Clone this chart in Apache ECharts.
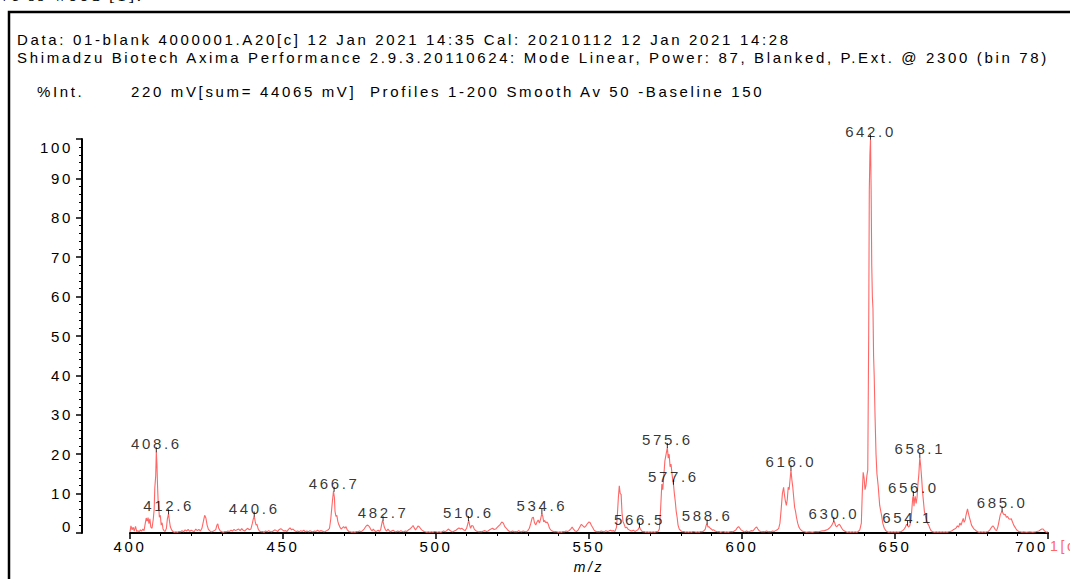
<!DOCTYPE html>
<html>
<head>
<meta charset="utf-8">
<script src="https://cdn.jsdelivr.net/npm/echarts@6/dist/echarts.min.js"></script>
<style>
  html, body { margin: 0; padding: 0; background: #fff; }
  #main { width: 1070px; height: 579px; }
  #main svg text { letter-spacing: 2.65px; }
</style>
</head>
<body>
<div id="main"></div>
<script>
// ---- data ----
const headerLine1 = 'Data: 01-blank 4000001.A20[c] 12 Jan 2021 14:35 Cal: 20210112 12 Jan 2021 14:28';
const headerLine2 = 'Shimadzu Biotech Axima Performance 2.9.3.20110624: Mode Linear, Power: 87, Blanked, P.Ext. @ 2300 (bin 78)';
const yUnitLabel = '%Int.';
const acqLine = '220 mV[sum= 44065 mV]  Profiles 1-200 Smooth Av 50 -Baseline 150';
const xAxisName = 'm/z';
const seriesTag = '1[c]';

const spectrumMz = [
400.0,400.3,400.7,401.0,401.4,401.8,402.2,402.6,403.0,403.4,403.8,404.2,404.6,405.0,405.3,405.6,405.9,406.2,406.5,406.8,407.2,407.6,407.9,408.1,408.4,408.6,408.8,409.0,409.2,409.4,409.6,409.9,410.2,410.5,410.8,411.1,411.5,411.9,412.2,412.6,412.9,413.2,413.6,414.0,414.5,415.0,415.5,416.0,416.5,417.0,417.5,418.0,418.5,419.0,419.5,420.0,420.5,421.0,421.5,422.0,422.5,423.0,423.5,424.0,424.4,424.8,425.2,425.6,426.0,426.5,427.0,427.5,428.0,428.4,428.7,429.0,429.5,430.0,430.5,431.0,431.5,432.0,432.5,433.0,433.5,434.0,434.5,435.0,435.5,436.0,436.5,437.0,437.5,438.0,438.5,439.0,439.5,440.0,440.3,440.6,440.9,441.2,441.5,441.9,442.3,442.8,443.3,443.8,444.3,444.8,445.3,445.8,446.3,446.8,447.3,447.8,448.3,448.8,449.3,449.8,450.3,450.8,451.3,451.8,452.3,452.8,453.3,453.8,454.3,454.8,455.3,455.8,456.3,456.8,457.3,457.8,458.3,458.8,459.3,459.8,460.3,460.8,461.3,461.8,462.3,462.8,463.3,463.8,464.3,464.8,465.2,465.6,465.9,466.2,466.5,466.8,467.0,467.3,467.6,467.9,468.2,468.6,469.0,469.4,469.8,470.2,470.6,471.0,471.5,472.0,472.5,473.0,473.5,474.0,474.5,475.0,475.5,476.0,476.5,477.0,477.5,477.9,478.3,478.7,479.1,479.5,479.9,480.3,480.7,481.1,481.5,481.9,482.2,482.5,482.8,483.1,483.5,483.9,484.3,484.7,485.1,485.5,486.0,486.5,487.0,487.5,488.0,488.5,489.0,489.5,490.0,490.5,491.0,491.5,492.0,492.5,492.9,493.3,493.7,494.1,494.5,494.9,495.3,495.7,496.1,496.5,497.0,497.5,498.0,498.5,499.0,499.5,500.0,500.5,501.0,501.5,502.0,502.5,503.0,503.5,504.0,504.5,505.0,505.5,506.0,506.5,507.0,507.5,508.0,508.5,509.0,509.5,510.0,510.4,510.7,511.0,511.3,511.7,512.1,512.5,513.0,513.5,514.0,514.5,515.0,515.5,516.0,516.5,517.0,517.5,518.0,518.5,519.0,519.5,520.0,520.5,521.0,521.5,522.0,522.5,523.0,523.5,524.0,524.5,525.0,525.5,526.0,526.5,527.0,527.5,528.0,528.5,529.0,529.5,530.0,530.5,531.0,531.4,531.8,532.2,532.6,533.0,533.4,533.8,534.2,534.6,534.9,535.2,535.5,535.9,536.3,536.7,537.1,537.5,538.0,538.5,539.0,539.5,540.0,540.5,541.0,541.5,542.0,542.5,543.0,543.5,544.0,544.5,545.0,545.5,546.0,546.5,547.0,547.5,548.0,548.5,549.0,549.5,550.0,550.4,550.8,551.2,551.6,552.0,552.5,553.0,553.5,554.0,554.5,555.0,555.5,556.0,556.5,557.0,557.5,558.0,558.5,559.0,559.3,559.6,559.9,560.2,560.5,560.8,561.1,561.5,561.9,562.3,562.7,563.1,563.5,564.0,564.5,565.0,565.5,566.0,566.5,566.8,567.2,567.6,568.0,568.5,569.0,569.5,570.0,570.5,571.0,571.5,572.0,572.5,573.0,573.4,573.8,574.1,574.4,574.8,575.2,575.6,575.9,576.2,576.5,576.8,577.2,577.6,577.9,578.2,578.5,578.8,579.1,579.5,580.0,580.5,581.0,581.5,582.0,582.5,583.0,583.5,584.0,584.5,585.0,585.5,586.0,586.5,587.0,587.5,588.0,588.3,588.6,588.9,589.2,589.6,590.0,590.4,590.8,591.2,591.6,592.0,592.5,593.0,593.5,594.0,594.5,595.0,595.5,596.0,596.5,597.0,597.5,598.0,598.5,598.9,599.3,599.7,600.1,600.5,601.0,601.5,602.0,602.5,603.0,603.5,604.0,604.5,604.8,605.2,605.6,606.0,606.5,607.0,607.5,608.0,608.5,609.0,609.5,610.0,610.5,611.0,611.5,612.0,612.4,612.8,613.2,613.6,613.9,614.2,614.5,614.8,615.1,615.4,615.7,616.0,616.3,616.6,616.9,617.2,617.5,617.8,618.2,618.6,619.0,619.5,620.0,620.5,621.0,622.0,623.0,624.0,625.0,626.0,627.0,628.0,628.5,629.0,629.5,630.0,630.3,630.6,631.0,631.4,631.8,632.2,632.6,633.0,633.5,634.0,634.5,635.0,635.5,636.0,636.5,637.0,637.5,638.0,638.5,639.0,639.3,639.6,639.9,640.2,640.5,640.8,641.1,641.4,641.6,641.8,642.0,642.2,642.4,642.6,642.8,643.0,643.2,643.5,643.8,644.1,644.5,645.0,645.6,646.0,646.5,647.0,647.5,648.0,648.5,649.0,649.5,650.0,650.5,651.0,651.5,652.0,652.5,653.0,653.4,653.8,654.1,654.4,654.8,655.2,655.5,655.8,656.0,656.2,656.4,656.6,656.9,657.2,657.5,657.8,658.1,658.4,658.7,659.0,659.3,659.6,659.9,660.2,660.6,661.0,661.4,661.8,662.3,663.0,663.5,664.0,664.5,665.0,665.5,666.0,666.5,667.0,667.5,668.0,668.5,669.0,669.5,670.0,670.4,670.8,671.2,671.6,672.0,672.3,672.6,672.9,673.2,673.5,673.7,674.0,674.3,674.6,675.0,675.4,675.8,676.2,676.6,677.0,677.5,678.0,678.5,679.0,679.5,680.0,680.5,681.0,681.5,682.0,682.4,682.8,683.2,683.6,684.0,684.4,684.8,685.0,685.3,685.7,686.0,686.4,686.8,687.2,687.6,688.0,688.4,688.8,689.2,689.6,690.0,690.5,691.0,691.5,692.0,693.0,694.0,695.0,696.0,697.0,697.5,698.0,698.4,698.8,699.2,699.6,700.0
];
const spectrumInt = [
0.3,1.8,0.8,1.5,0.5,1.7,0.4,0.6,0.3,0.8,0.5,1.0,0.6,2.5,3.8,3.0,3.9,2.4,3.6,1.5,1.2,3.5,6.0,11.4,14.5,20.6,17.5,12.0,8.0,6.5,4.0,4.5,2.0,2.6,1.0,0.6,0.4,1.2,3.5,4.9,3.0,1.5,0.8,0.4,0.2,0.3,0.2,0.4,0.3,0.6,0.3,0.8,0.5,0.9,0.4,0.7,0.5,0.4,1.0,0.6,0.9,0.5,1.2,3.0,4.5,3.8,2.0,1.0,0.6,0.3,0.4,0.6,0.8,2.0,2.3,1.2,0.5,0.3,0.2,0.4,0.3,0.5,0.4,0.7,0.5,0.9,0.6,0.8,1.0,0.6,1.1,0.7,0.5,0.9,1.2,0.8,1.0,2.5,3.6,4.3,3.0,2.0,2.2,1.0,0.5,0.3,0.4,0.2,0.5,0.3,0.6,0.4,0.3,0.5,0.8,0.6,0.4,0.9,1.1,0.8,0.5,0.6,0.4,0.9,1.3,0.8,1.0,0.6,0.4,0.5,0.3,0.6,0.4,0.7,0.3,0.5,0.3,0.6,0.4,0.3,0.5,0.4,0.7,0.4,0.6,0.5,0.3,0.4,0.6,0.8,1.2,3.5,6.0,8.5,10.6,9.0,5.5,4.2,4.5,3.0,2.2,1.5,1.0,1.3,1.6,1.2,1.6,0.8,0.4,0.3,0.2,0.3,0.2,0.4,0.3,0.5,0.3,0.6,1.0,1.6,2.0,1.9,1.5,0.9,0.5,1.0,0.6,0.4,0.5,0.7,0.4,0.8,2.0,3.1,2.6,1.5,0.8,0.5,1.0,0.6,0.3,0.5,0.7,0.4,0.3,0.5,0.3,0.6,0.4,0.3,0.5,0.4,0.8,1.0,1.4,1.9,1.3,0.8,1.2,1.8,1.6,1.2,0.8,0.6,0.4,0.3,0.2,0.3,0.2,0.3,0.2,0.4,0.3,0.2,0.3,0.2,0.3,0.5,0.3,0.6,1.0,0.7,0.4,0.3,0.5,0.7,1.0,1.3,1.0,1.2,0.8,0.6,1.2,2.4,3.2,2.0,1.2,1.9,1.8,1.0,0.6,0.4,0.3,0.4,0.3,0.5,0.6,0.4,0.5,0.8,1.0,1.2,0.9,1.0,1.4,1.8,2.2,2.8,2.5,1.6,1.2,0.7,0.4,0.3,0.5,0.3,0.4,0.3,0.6,0.4,0.3,0.5,0.4,0.3,0.6,1.2,2.5,3.8,4.0,2.6,2.0,2.8,3.3,2.5,3.6,5.0,4.2,2.8,3.2,2.6,2.8,2.2,1.2,0.8,0.5,0.3,0.4,0.3,0.2,0.3,0.2,0.4,0.3,0.5,0.4,0.6,1.0,1.5,0.9,0.5,0.4,0.8,1.5,2.2,1.8,1.4,1.8,2.4,2.8,2.6,1.9,1.4,0.8,0.5,0.3,0.4,0.3,0.5,0.4,0.3,0.6,0.4,0.5,0.7,0.5,0.6,0.4,1.5,5.0,9.0,12.0,10.0,9.8,5.0,3.0,2.2,1.3,1.5,1.0,0.8,0.6,0.5,0.7,0.4,0.6,0.8,1.5,1.0,0.5,0.3,0.4,0.2,0.3,0.2,0.3,0.2,0.3,0.2,0.4,0.3,1.0,6.0,12.4,11.0,14.0,18.3,20.0,21.7,19.0,20.0,16.8,17.5,14.5,12.4,10.0,8.0,5.5,4.0,2.0,1.0,0.6,0.3,0.4,0.2,0.3,0.2,0.3,0.2,0.4,0.3,0.2,0.3,0.2,0.4,0.3,0.5,1.0,2.0,2.3,1.5,1.6,1.2,1.0,0.7,0.8,0.5,0.4,0.3,0.4,0.2,0.3,0.4,0.2,0.3,0.2,0.3,0.4,0.3,0.5,0.8,1.4,1.6,1.2,0.8,0.6,0.4,0.3,0.5,0.3,0.4,0.6,0.5,0.9,1.4,1.5,1.0,0.6,0.4,0.3,0.4,0.3,0.5,0.3,0.4,0.3,0.5,0.4,0.6,0.8,1.2,2.5,6.0,10.0,11.6,9.5,8.0,7.0,8.5,11.6,11.0,13.5,16.0,13.5,11.6,9.0,6.5,5.5,4.0,2.5,1.5,1.0,0.6,0.4,0.3,0.2,0.3,0.2,0.4,0.3,0.5,0.6,0.9,1.2,1.6,2.2,3.0,2.6,1.8,1.6,2.0,2.2,1.8,1.2,0.8,0.5,0.3,0.2,0.3,0.2,0.3,0.2,0.3,0.2,0.4,0.8,2.5,10.0,15.4,14.0,11.0,12.0,14.5,16.0,50.0,87.0,96.0,100.0,87.0,68.0,60.0,57.0,45.0,40.0,29.0,20.0,15.0,12.0,7.0,4.5,2.5,1.2,0.6,0.3,0.2,0.3,0.2,0.3,0.2,0.3,0.2,0.3,0.4,0.6,1.0,1.5,2.2,2.0,1.5,1.8,3.0,6.0,9.0,9.5,6.8,8.5,9.3,7.5,9.0,12.4,15.0,19.3,17.0,14.0,10.5,8.0,5.5,4.5,3.5,2.5,2.0,1.2,0.6,0.3,0.2,0.3,0.2,0.3,0.2,0.3,0.2,0.3,0.2,0.3,0.4,0.5,0.8,1.0,1.3,1.8,1.5,2.5,2.0,3.0,3.7,2.7,3.2,4.5,5.5,6.1,5.0,4.0,3.2,2.0,1.5,1.0,0.8,0.5,0.3,0.2,0.3,0.2,0.3,0.2,0.3,0.4,0.8,1.4,1.8,1.4,0.8,0.6,1.5,3.0,4.6,5.3,5.6,5.0,4.6,4.8,4.0,4.2,3.6,3.5,3.6,2.8,2.0,1.5,1.0,0.6,0.4,0.3,0.2,0.3,0.2,0.3,0.2,0.3,0.5,0.8,1.0,1.0,0.6,0.3,0.2,0.3
];

const peakMz  = [408.6, 412.6, 440.6, 466.7, 482.7, 510.6, 534.6, 566.5, 575.6, 577.6, 588.6, 616.0, 630.0, 642.0, 654.1, 656.0, 658.1, 685.0];
const peakInt = [20.6, 4.9, 4.3, 10.6, 3.1, 3.2, 5.0, 1.5, 21.7, 12.4, 2.3, 16.0, 3.0, 100, 2.0, 9.5, 19.3, 5.6];

const xMin = 400, xMax = 700, xStep = 50;
const yMin = 0, yMax = 100, yStep = 10;

// ---- build chart ----
const spectrum = spectrumMz.map((m, i) => [m, spectrumInt[i]]);
const peaks = peakMz.map((m, i) => [m, peakInt[i]]);

const FONT = '"Liberation Sans", Arial, sans-serif';
const FS = 15;
const TXT = '#000';
const RED = '#ff6666';

const chart = echarts.init(document.getElementById('main'), null, { renderer: 'svg', width: 1070, height: 579 });

chart.setOption({
  animation: false,
  backgroundColor: '#fff',
  textStyle: { fontFamily: FONT },
  grid: { left: 130, right: 22, top: 139, bottom: 43, containLabel: false },
  xAxis: {
    type: 'value', min: xMin, max: xMax, interval: xStep,
    name: xAxisName, nameLocation: 'middle', nameGap: 27,
    nameTextStyle: { fontStyle: 'italic', fontSize: 14, color: TXT, fontFamily: FONT },
    axisLine: { show: true, onZero: false, lineStyle: { color: '#000', width: 2 } },
    axisTick: { show: true, length: 6, lineStyle: { color: '#000', width: 1.5 } },
    minorTick: { show: true, splitNumber: 5, length: 3, lineStyle: { color: '#000', width: 1 } },
    splitLine: { show: false },
    axisLabel: { fontSize: FS, color: TXT, margin: 6, fontFamily: FONT, alignMaxLabel: 'right' }
  },
  yAxis: {
    type: 'value', min: yMin, max: yMax, interval: yStep, offset: 48,
    axisLine: { show: true, lineStyle: { color: '#000', width: 2 } },
    axisTick: { show: true, length: 6, lineStyle: { color: '#000', width: 1.5 } },
    minorTick: { show: true, splitNumber: 5, length: 3, lineStyle: { color: '#000', width: 1 } },
    splitLine: { show: false },
    axisLabel: {
      fontSize: FS, color: TXT, margin: 9, fontFamily: FONT,
      formatter: v => v === yMin ? '{lo|' + v + '}' : (v === yMax ? '{hi|' + v + '}' : String(v)),
      rich: {
        lo: { fontSize: FS, color: TXT, fontFamily: FONT, padding: [0, 0, 14, 0] },
        hi: { fontSize: FS, color: TXT, fontFamily: FONT, padding: [16, 0, 0, 0] }
      }
    }
  },
  series: [
    {
      type: 'line', data: spectrum, showSymbol: false, symbol: 'none',
      lineStyle: { color: RED, width: 1.1 }, z: 2, clip: false
    },
    {
      type: 'scatter', data: peaks, symbol: 'rect', symbolSize: [1, 5], symbolOffset: [0, -2],
      itemStyle: { color: '#000' }, z: 3,
      label: {
        show: true, position: 'top', distance: -4, fontSize: FS, color: TXT, fontFamily: FONT,
        formatter: p => p.value[0].toFixed(1)
      }
    }
  ],
  graphic: [
    { type: 'text', left: 0, top: -13, style: { text: 've ss wood [1].', font: '17px "Liberation Serif", serif', fill: '#000' } },
    { type: 'rect', shape: { x: 9, y: 12, width: 1100, height: 700 }, style: { fill: 'none', stroke: '#000', lineWidth: 2.5 } },
    { type: 'text', x: 17, y: 39, style: { text: headerLine1, font: FS + 'px ' + FONT, fill: TXT, verticalAlign: 'middle' } },
    { type: 'text', x: 17, y: 57, style: { text: headerLine2, font: FS + 'px ' + FONT, fill: TXT, verticalAlign: 'middle' } },
    { type: 'text', x: 37, y: 91, style: { text: yUnitLabel, font: FS + 'px ' + FONT, fill: TXT, verticalAlign: 'middle' } },
    { type: 'text', x: 131, y: 91, style: { text: acqLine, font: FS + 'px ' + FONT, fill: TXT, verticalAlign: 'middle' } },
    { type: 'text', x: 1050, y: 546, style: { text: seriesTag, font: '14px ' + FONT, fill: RED, verticalAlign: 'middle' } }
  ]
});
</script>
</body>
</html>
